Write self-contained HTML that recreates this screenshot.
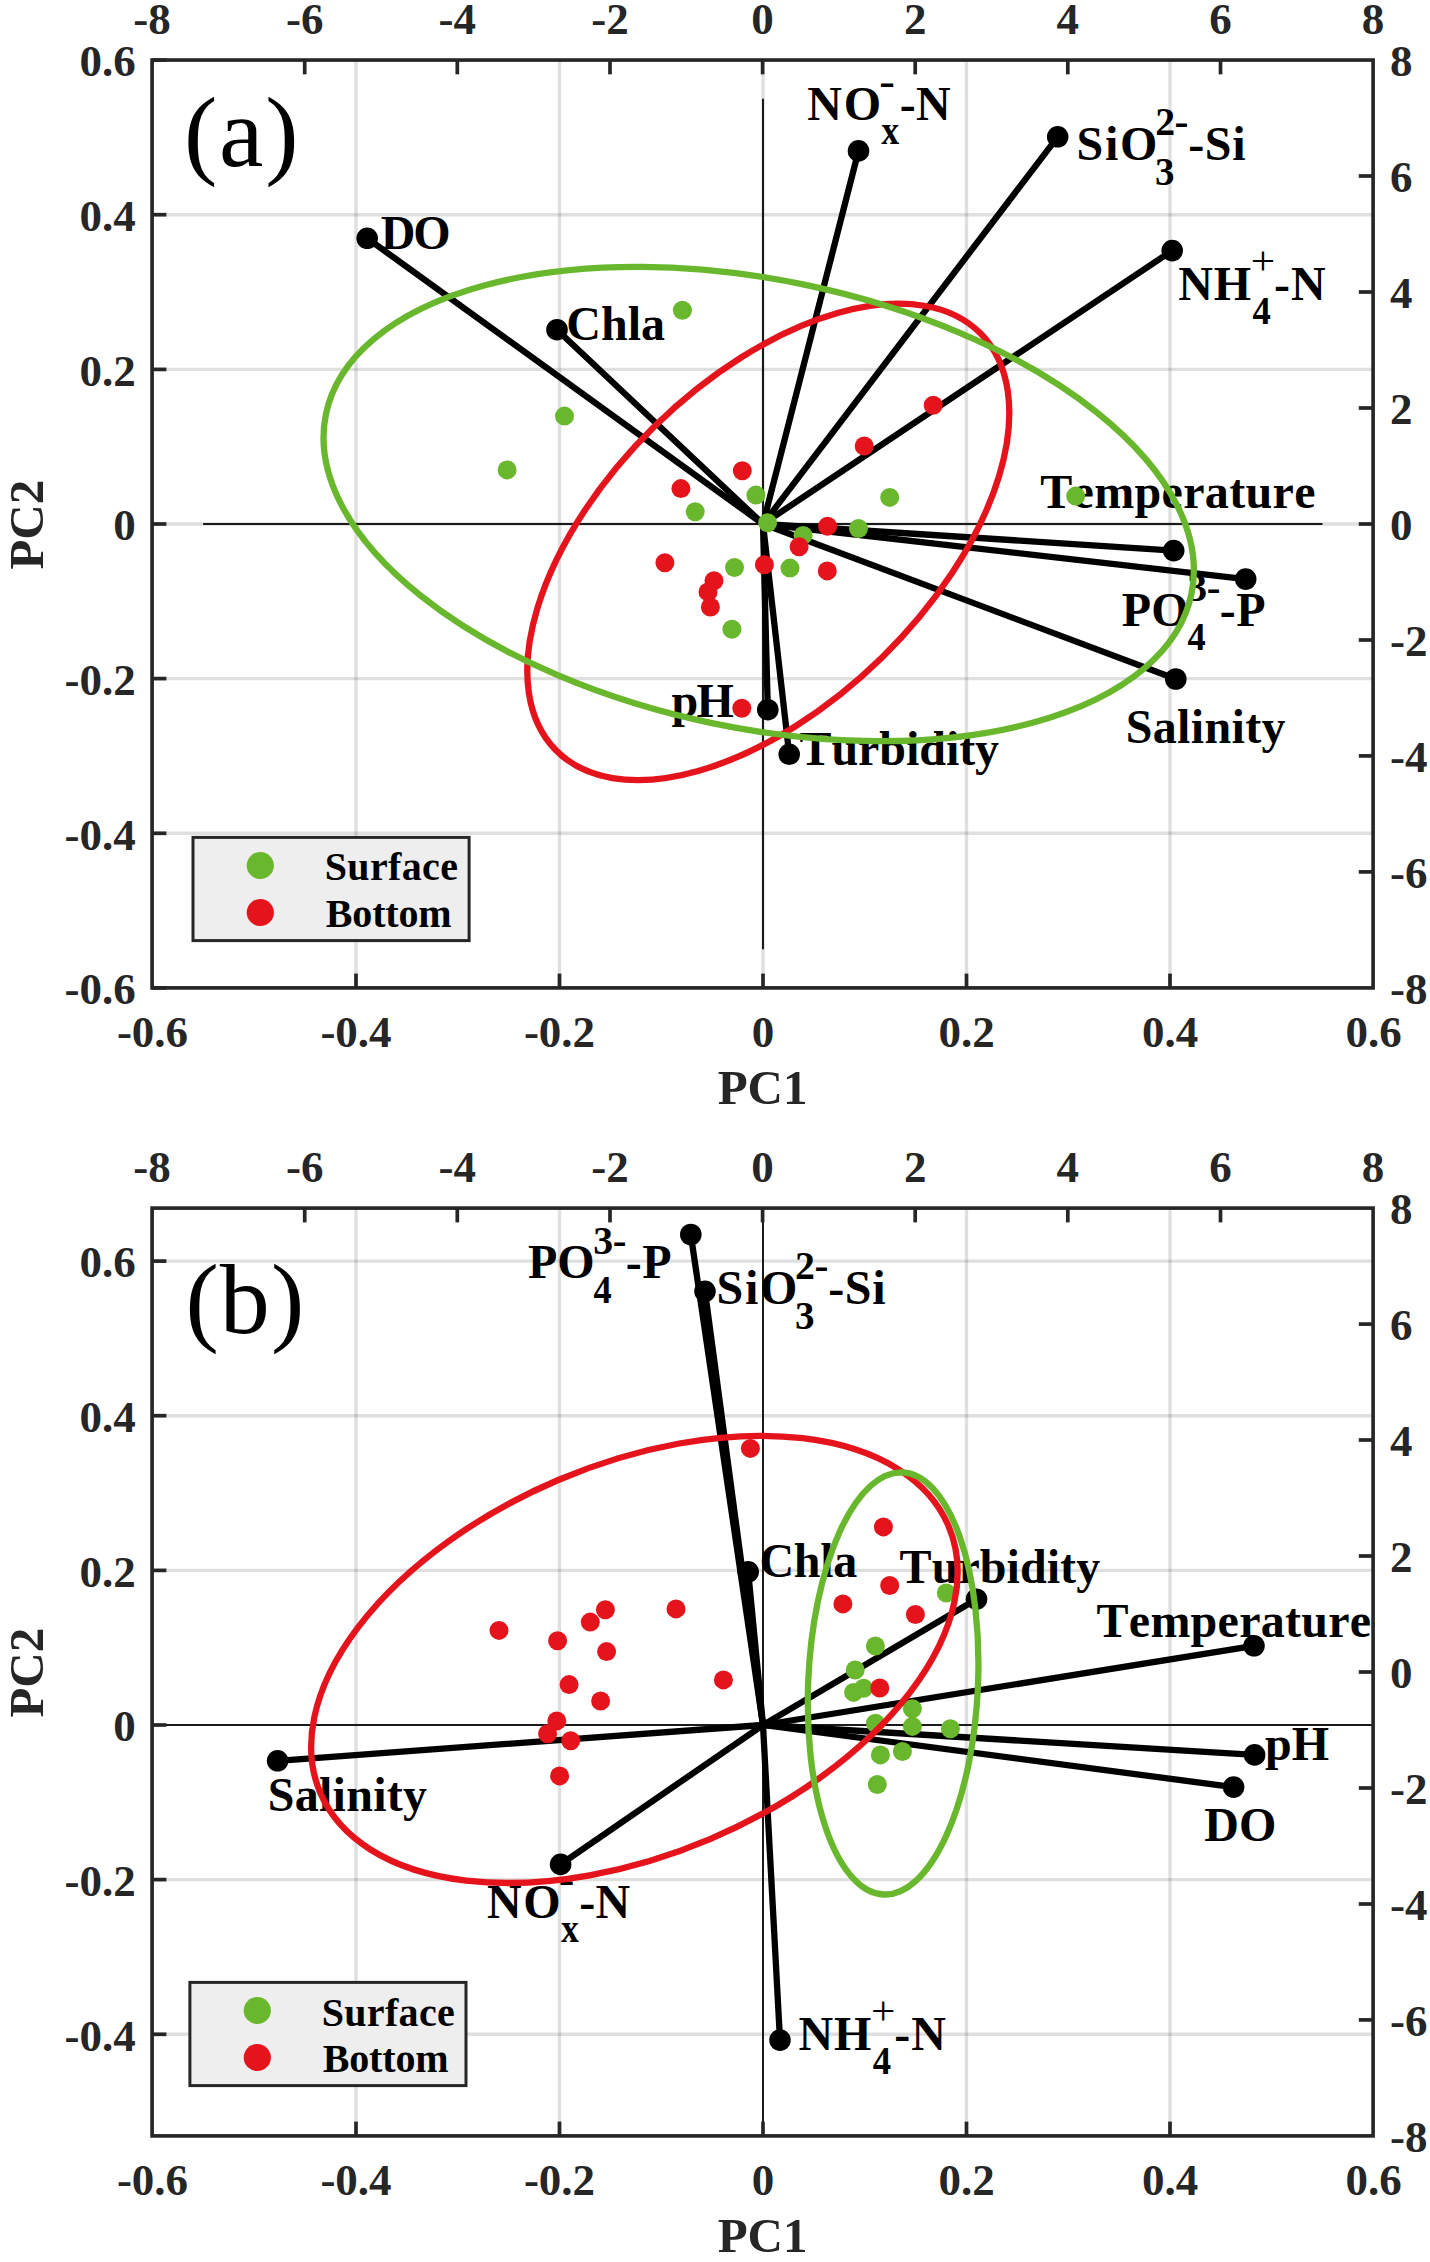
<!DOCTYPE html>
<html><head><meta charset="utf-8"><title>PCA biplots</title>
<style>html,body{margin:0;padding:0;background:#fff}svg{display:block}text{font-kerning:none}</style></head>
<body>
<svg width="1430" height="2262" viewBox="0 0 1430 2262">
<rect width="1430" height="2262" fill="#fff"/>
<rect x="152.1" y="60.05" width="1221.0" height="927.85" fill="#fff"/>
<line x1="356.0" y1="60.05" x2="356.0" y2="987.9" stroke="#262626" stroke-opacity="0.15" stroke-width="3.4"/>
<line x1="559.5" y1="60.05" x2="559.5" y2="987.9" stroke="#262626" stroke-opacity="0.15" stroke-width="3.4"/>
<line x1="763.0" y1="60.05" x2="763.0" y2="987.9" stroke="#262626" stroke-opacity="0.15" stroke-width="3.4"/>
<line x1="966.5" y1="60.05" x2="966.5" y2="987.9" stroke="#262626" stroke-opacity="0.15" stroke-width="3.4"/>
<line x1="1170.0" y1="60.05" x2="1170.0" y2="987.9" stroke="#262626" stroke-opacity="0.15" stroke-width="3.4"/>
<line x1="152.1" y1="833.3" x2="1373.1" y2="833.3" stroke="#262626" stroke-opacity="0.15" stroke-width="3.4"/>
<line x1="152.1" y1="678.6" x2="1373.1" y2="678.6" stroke="#262626" stroke-opacity="0.15" stroke-width="3.4"/>
<line x1="152.1" y1="524.0" x2="1373.1" y2="524.0" stroke="#262626" stroke-opacity="0.15" stroke-width="3.4"/>
<line x1="152.1" y1="369.4" x2="1373.1" y2="369.4" stroke="#262626" stroke-opacity="0.15" stroke-width="3.4"/>
<line x1="152.1" y1="214.7" x2="1373.1" y2="214.7" stroke="#262626" stroke-opacity="0.15" stroke-width="3.4"/>
<line x1="203.1" y1="524.0" x2="1322.5" y2="524.0" stroke="#1a1a1a" stroke-width="2"/>
<line x1="763.0" y1="98.7" x2="763.0" y2="949.3" stroke="#1a1a1a" stroke-width="2"/>
<g font-family="Liberation Serif, serif" font-weight="bold">
<text x="380.66" y="248.5" font-size="48" fill="#000" text-anchor="start" textLength="69.99" lengthAdjust="spacing" >DO</text>
<text x="566.26" y="339.9" font-size="48" fill="#000" text-anchor="start" textLength="98.77" lengthAdjust="spacing" >Chla</text>
<text x="807.29" y="119.9" font-size="48" fill="#000" text-anchor="start" textLength="73.76" lengthAdjust="spacing" >NO</text>
<text x="879.18" y="95.2" font-size="39" fill="#000" text-anchor="start" textLength="15.64" lengthAdjust="spacingAndGlyphs" >-</text>
<text x="881.36" y="144.3" font-size="39" fill="#000" text-anchor="start" textLength="17.93" lengthAdjust="spacingAndGlyphs" >x</text>
<text x="899.74" y="119.9" font-size="48" fill="#000" text-anchor="start" textLength="50.89" lengthAdjust="spacing" >-N</text>
<text x="1076.55" y="160.1" font-size="48" fill="#000" text-anchor="start" textLength="80.9" lengthAdjust="spacing" >SiO</text>
<text x="1155.13" y="135.4" font-size="39" fill="#000" text-anchor="start" textLength="19.88" lengthAdjust="spacingAndGlyphs" >2</text>
<text x="1174.56" y="135.4" font-size="39" fill="#000" text-anchor="start" textLength="13.97" lengthAdjust="spacingAndGlyphs" >-</text>
<text x="1154.93" y="184.5" font-size="39" fill="#000" text-anchor="start" textLength="19.5" lengthAdjust="spacingAndGlyphs" >3</text>
<text x="1188.14" y="160.1" font-size="48" fill="#000" text-anchor="start" textLength="57.46" lengthAdjust="spacing" >-Si</text>
<text x="1178.29" y="300" font-size="48" fill="#000" text-anchor="start" textLength="72.81" lengthAdjust="spacing" >NH</text>
<text x="1250.65" y="274.1" font-size="41" fill="#000" text-anchor="start" textLength="24.36" lengthAdjust="spacingAndGlyphs"  font-weight="normal">+</text>
<text x="1252.5" y="324.4" font-size="39" fill="#000" text-anchor="start" textLength="18.28" lengthAdjust="spacingAndGlyphs" >4</text>
<text x="1273.94" y="300" font-size="48" fill="#000" text-anchor="start" textLength="51.69" lengthAdjust="spacing" >-N</text>
<text x="1121.78" y="625.5" font-size="48" fill="#000" text-anchor="start" textLength="66.76" lengthAdjust="spacing" >PO</text>
<text x="1187.21" y="600.8" font-size="39" fill="#000" text-anchor="start" textLength="19.85" lengthAdjust="spacingAndGlyphs" >3</text>
<text x="1206.69" y="600.8" font-size="39" fill="#000" text-anchor="start" textLength="13.72" lengthAdjust="spacingAndGlyphs" >-</text>
<text x="1187.5" y="649.9" font-size="39" fill="#000" text-anchor="start" textLength="18.17" lengthAdjust="spacingAndGlyphs" >4</text>
<text x="1219.64" y="625.5" font-size="48" fill="#000" text-anchor="start" textLength="45.92" lengthAdjust="spacing" >-P</text>
<text x="1040.15" y="507.6" font-size="48" fill="#000" text-anchor="start" textLength="275.39" lengthAdjust="spacing" >Temperature</text>
<text x="1125.75" y="743.2" font-size="48" fill="#000" text-anchor="start" textLength="159.72" lengthAdjust="spacing" >Salinity</text>
<text x="799.55" y="764.5" font-size="48" fill="#000" text-anchor="start" textLength="199.52" lengthAdjust="spacing" >Turbidity</text>
<text x="671.49" y="717.2" font-size="48" fill="#000" text-anchor="start" textLength="62.31" lengthAdjust="spacing" >pH</text>
</g>
<g font-family="Liberation Serif, serif"><text x="183.91" y="166.3" font-size="100" fill="#000" text-anchor="start" textLength="114.59" lengthAdjust="spacing"  font-weight="normal">(a)</text></g>
<line x1="763.0" y1="524.0" x2="367.2" y2="238.3" stroke="#000" stroke-width="6.3" stroke-linecap="round"/>
<line x1="763.0" y1="524.0" x2="557" y2="329.7" stroke="#000" stroke-width="6.3" stroke-linecap="round"/>
<line x1="763.0" y1="524.0" x2="858.5" y2="150.9" stroke="#000" stroke-width="6.3" stroke-linecap="round"/>
<line x1="763.0" y1="524.0" x2="1057.7" y2="136.8" stroke="#000" stroke-width="6.3" stroke-linecap="round"/>
<line x1="763.0" y1="524.0" x2="1172.2" y2="250.6" stroke="#000" stroke-width="6.3" stroke-linecap="round"/>
<line x1="763.0" y1="524.0" x2="1173.7" y2="550.6" stroke="#000" stroke-width="6.3" stroke-linecap="round"/>
<line x1="763.0" y1="524.0" x2="1245.7" y2="579.1" stroke="#000" stroke-width="6.3" stroke-linecap="round"/>
<line x1="763.0" y1="524.0" x2="1175.8" y2="679" stroke="#000" stroke-width="6.3" stroke-linecap="round"/>
<line x1="763.0" y1="524.0" x2="789.2" y2="754.3" stroke="#000" stroke-width="6.3" stroke-linecap="round"/>
<line x1="763.0" y1="524.0" x2="767.8" y2="709.7" stroke="#000" stroke-width="6.3" stroke-linecap="round"/>
<circle cx="367.2" cy="238.3" r="10.8" fill="#000"/>
<circle cx="557" cy="329.7" r="10.8" fill="#000"/>
<circle cx="858.5" cy="150.9" r="10.8" fill="#000"/>
<circle cx="1057.7" cy="136.8" r="10.8" fill="#000"/>
<circle cx="1172.2" cy="250.6" r="10.8" fill="#000"/>
<circle cx="1173.7" cy="550.6" r="10.8" fill="#000"/>
<circle cx="1245.7" cy="579.1" r="10.8" fill="#000"/>
<circle cx="1175.8" cy="679" r="10.8" fill="#000"/>
<circle cx="789.2" cy="754.3" r="10.8" fill="#000"/>
<circle cx="767.8" cy="709.7" r="10.8" fill="#000"/>
<circle cx="564.5" cy="416.1" r="9.5" fill="#69b72d"/>
<circle cx="507.1" cy="469.9" r="9.5" fill="#69b72d"/>
<circle cx="755.9" cy="495.1" r="9.5" fill="#69b72d"/>
<circle cx="695.2" cy="511.7" r="9.5" fill="#69b72d"/>
<circle cx="767.6" cy="522.8" r="9.5" fill="#69b72d"/>
<circle cx="889.7" cy="497.4" r="9.5" fill="#69b72d"/>
<circle cx="803.1" cy="535.4" r="9.5" fill="#69b72d"/>
<circle cx="858.5" cy="528.5" r="9.5" fill="#69b72d"/>
<circle cx="734.5" cy="567.5" r="9.5" fill="#69b72d"/>
<circle cx="790.0" cy="568.1" r="9.5" fill="#69b72d"/>
<circle cx="731.9" cy="629.3" r="9.5" fill="#69b72d"/>
<circle cx="682.4" cy="310.3" r="9.5" fill="#69b72d"/>
<circle cx="1075.7" cy="496.1" r="9.5" fill="#69b72d"/>
<circle cx="742.3" cy="470.7" r="9.5" fill="#e5141c"/>
<circle cx="680.9" cy="488.6" r="9.5" fill="#e5141c"/>
<circle cx="933.2" cy="405.3" r="9.5" fill="#e5141c"/>
<circle cx="864.2" cy="446.0" r="9.5" fill="#e5141c"/>
<circle cx="827.6" cy="526.3" r="9.5" fill="#e5141c"/>
<circle cx="799.1" cy="546.7" r="9.5" fill="#e5141c"/>
<circle cx="764.4" cy="564.7" r="9.5" fill="#e5141c"/>
<circle cx="827.3" cy="570.9" r="9.5" fill="#e5141c"/>
<circle cx="664.9" cy="562.8" r="9.5" fill="#e5141c"/>
<circle cx="714.0" cy="580.7" r="9.5" fill="#e5141c"/>
<circle cx="708.0" cy="591.9" r="9.5" fill="#e5141c"/>
<circle cx="710.4" cy="607.0" r="9.5" fill="#e5141c"/>
<circle cx="741.8" cy="708.3" r="9.5" fill="#e5141c"/>
<ellipse cx="768.3" cy="541.9" rx="297.5" ry="162.2" transform="rotate(135.62 768.3 541.9)" fill="none" stroke="#e5141c" stroke-width="6.3"/>
<ellipse cx="758.7" cy="504.0" rx="442.0" ry="224.1" transform="rotate(-168.26 758.7 504.0)" fill="none" stroke="#69b72d" stroke-width="6.3"/>
<line x1="356.0" y1="987.9" x2="356.0" y2="973.6" stroke="#262626" stroke-width="3.7"/>
<line x1="559.5" y1="987.9" x2="559.5" y2="973.6" stroke="#262626" stroke-width="3.7"/>
<line x1="763.0" y1="987.9" x2="763.0" y2="973.6" stroke="#262626" stroke-width="3.7"/>
<line x1="966.5" y1="987.9" x2="966.5" y2="973.6" stroke="#262626" stroke-width="3.7"/>
<line x1="1170.0" y1="987.9" x2="1170.0" y2="973.6" stroke="#262626" stroke-width="3.7"/>
<line x1="152.1" y1="987.9" x2="166.4" y2="987.9" stroke="#262626" stroke-width="3.7"/>
<line x1="152.1" y1="833.3" x2="166.4" y2="833.3" stroke="#262626" stroke-width="3.7"/>
<line x1="152.1" y1="678.6" x2="166.4" y2="678.6" stroke="#262626" stroke-width="3.7"/>
<line x1="152.1" y1="524.0" x2="166.4" y2="524.0" stroke="#262626" stroke-width="3.7"/>
<line x1="152.1" y1="369.4" x2="166.4" y2="369.4" stroke="#262626" stroke-width="3.7"/>
<line x1="152.1" y1="214.7" x2="166.4" y2="214.7" stroke="#262626" stroke-width="3.7"/>
<line x1="152.1" y1="60.1" x2="166.4" y2="60.1" stroke="#262626" stroke-width="3.7"/>
<line x1="304.7" y1="60.05" x2="304.7" y2="74.35" stroke="#262626" stroke-width="3.7"/>
<line x1="1373.1" y1="871.9" x2="1358.8" y2="871.9" stroke="#262626" stroke-width="3.7"/>
<line x1="457.3" y1="60.05" x2="457.3" y2="74.35" stroke="#262626" stroke-width="3.7"/>
<line x1="1373.1" y1="755.9" x2="1358.8" y2="755.9" stroke="#262626" stroke-width="3.7"/>
<line x1="610.0" y1="60.05" x2="610.0" y2="74.35" stroke="#262626" stroke-width="3.7"/>
<line x1="1373.1" y1="640.0" x2="1358.8" y2="640.0" stroke="#262626" stroke-width="3.7"/>
<line x1="762.6" y1="60.05" x2="762.6" y2="74.35" stroke="#262626" stroke-width="3.7"/>
<line x1="1373.1" y1="524.0" x2="1358.8" y2="524.0" stroke="#262626" stroke-width="3.7"/>
<line x1="915.2" y1="60.05" x2="915.2" y2="74.35" stroke="#262626" stroke-width="3.7"/>
<line x1="1373.1" y1="408.0" x2="1358.8" y2="408.0" stroke="#262626" stroke-width="3.7"/>
<line x1="1067.8" y1="60.05" x2="1067.8" y2="74.35" stroke="#262626" stroke-width="3.7"/>
<line x1="1373.1" y1="292.0" x2="1358.8" y2="292.0" stroke="#262626" stroke-width="3.7"/>
<line x1="1220.5" y1="60.05" x2="1220.5" y2="74.35" stroke="#262626" stroke-width="3.7"/>
<line x1="1373.1" y1="176.0" x2="1358.8" y2="176.0" stroke="#262626" stroke-width="3.7"/>
<rect x="152.1" y="60.05" width="1221.0" height="927.85" fill="none" stroke="#262626" stroke-width="3.65"/>
<g font-family="Liberation Serif, serif" font-weight="bold" font-size="45" fill="#262626">
<text x="152.5" y="1046.6" text-anchor="middle">-0.6</text>
<text x="356.0" y="1046.6" text-anchor="middle">-0.4</text>
<text x="559.5" y="1046.6" text-anchor="middle">-0.2</text>
<text x="763.0" y="1046.6" text-anchor="middle">0</text>
<text x="966.5" y="1046.6" text-anchor="middle">0.2</text>
<text x="1170.0" y="1046.6" text-anchor="middle">0.4</text>
<text x="1373.5" y="1046.6" text-anchor="middle">0.6</text>
<text x="135.7" y="1004.1" text-anchor="end">-0.6</text>
<text x="135.7" y="849.5" text-anchor="end">-0.4</text>
<text x="135.7" y="694.8" text-anchor="end">-0.2</text>
<text x="135.7" y="540.2" text-anchor="end">0</text>
<text x="135.7" y="385.6" text-anchor="end">0.2</text>
<text x="135.7" y="230.9" text-anchor="end">0.4</text>
<text x="135.7" y="76.3" text-anchor="end">0.6</text>
<text x="152.1" y="34.3" text-anchor="middle">-8</text>
<text x="1390.0" y="1004.0">-8</text>
<text x="304.7" y="34.3" text-anchor="middle">-6</text>
<text x="1390.0" y="888.0">-6</text>
<text x="457.3" y="34.3" text-anchor="middle">-4</text>
<text x="1390.0" y="772.0">-4</text>
<text x="610.0" y="34.3" text-anchor="middle">-2</text>
<text x="1390.0" y="656.1">-2</text>
<text x="762.6" y="34.3" text-anchor="middle">0</text>
<text x="1390.0" y="540.1">0</text>
<text x="915.2" y="34.3" text-anchor="middle">2</text>
<text x="1390.0" y="424.1">2</text>
<text x="1067.8" y="34.3" text-anchor="middle">4</text>
<text x="1390.0" y="308.1">4</text>
<text x="1220.5" y="34.3" text-anchor="middle">6</text>
<text x="1390.0" y="192.1">6</text>
<text x="1373.1" y="34.3" text-anchor="middle">8</text>
<text x="1390.0" y="76.2">8</text>
</g>
<text x="762.5999999999999"  y="1103.9" font-family="Liberation Serif, serif" font-weight="bold" font-size="49" fill="#262626" text-anchor="middle">PC1</text>
<text transform="translate(43.1 524.7) rotate(-90)" font-family="Liberation Serif, serif" font-weight="bold" font-size="49" fill="#262626" text-anchor="middle">PC2</text>
<rect x="193" y="837.4" width="276.1" height="103.2" fill="#eeeeee" stroke="#262626" stroke-width="3"/>
<circle cx="260.3" cy="865.5" r="13.6" fill="#69b72d"/>
<circle cx="260.3" cy="912.5" r="13.6" fill="#e5141c"/>
<g font-family="Liberation Serif, serif" font-weight="bold">
<text x="324.77" y="880.4" font-size="40" fill="#000" text-anchor="start" textLength="133.16" lengthAdjust="spacing" >Surface</text>
<text x="325.74" y="927" font-size="40" fill="#000" text-anchor="start" textLength="125.95" lengthAdjust="spacing" >Bottom</text>
</g>
<rect x="152.1" y="1208.1" width="1221.0" height="927.8000000000002" fill="#fff"/>
<line x1="356.0" y1="1208.1" x2="356.0" y2="2135.9" stroke="#262626" stroke-opacity="0.15" stroke-width="3.4"/>
<line x1="559.5" y1="1208.1" x2="559.5" y2="2135.9" stroke="#262626" stroke-opacity="0.15" stroke-width="3.4"/>
<line x1="966.5" y1="1208.1" x2="966.5" y2="2135.9" stroke="#262626" stroke-opacity="0.15" stroke-width="3.4"/>
<line x1="1170.0" y1="1208.1" x2="1170.0" y2="2135.9" stroke="#262626" stroke-opacity="0.15" stroke-width="3.4"/>
<line x1="152.1" y1="2034.3" x2="1373.1" y2="2034.3" stroke="#262626" stroke-opacity="0.15" stroke-width="3.4"/>
<line x1="152.1" y1="1879.6" x2="1373.1" y2="1879.6" stroke="#262626" stroke-opacity="0.15" stroke-width="3.4"/>
<line x1="152.1" y1="1570.4" x2="1373.1" y2="1570.4" stroke="#262626" stroke-opacity="0.15" stroke-width="3.4"/>
<line x1="152.1" y1="1415.7" x2="1373.1" y2="1415.7" stroke="#262626" stroke-opacity="0.15" stroke-width="3.4"/>
<line x1="152.1" y1="1261.1" x2="1373.1" y2="1261.1" stroke="#262626" stroke-opacity="0.15" stroke-width="3.4"/>
<line x1="152.1" y1="1725.0" x2="1373.1" y2="1725.0" stroke="#1a1a1a" stroke-width="2"/>
<line x1="763.0" y1="1208.1" x2="763.0" y2="2135.9" stroke="#1a1a1a" stroke-width="2"/>
<g font-family="Liberation Serif, serif" font-weight="bold">
<text x="527.88" y="1278.2" font-size="48" fill="#000" text-anchor="start" textLength="66.76" lengthAdjust="spacing" >PO</text>
<text x="593.31" y="1253.5" font-size="39" fill="#000" text-anchor="start" textLength="19.85" lengthAdjust="spacingAndGlyphs" >3</text>
<text x="612.79" y="1253.5" font-size="39" fill="#000" text-anchor="start" textLength="13.72" lengthAdjust="spacingAndGlyphs" >-</text>
<text x="593.6" y="1302.6000000000001" font-size="39" fill="#000" text-anchor="start" textLength="18.17" lengthAdjust="spacingAndGlyphs" >4</text>
<text x="625.74" y="1278.2" font-size="48" fill="#000" text-anchor="start" textLength="45.92" lengthAdjust="spacing" >-P</text>
<text x="716.55" y="1304.1" font-size="48" fill="#000" text-anchor="start" textLength="80.9" lengthAdjust="spacing" >SiO</text>
<text x="795.13" y="1279.3999999999999" font-size="39" fill="#000" text-anchor="start" textLength="19.88" lengthAdjust="spacingAndGlyphs" >2</text>
<text x="814.56" y="1279.3999999999999" font-size="39" fill="#000" text-anchor="start" textLength="13.97" lengthAdjust="spacingAndGlyphs" >-</text>
<text x="794.93" y="1328.5" font-size="39" fill="#000" text-anchor="start" textLength="19.5" lengthAdjust="spacingAndGlyphs" >3</text>
<text x="828.14" y="1304.1" font-size="48" fill="#000" text-anchor="start" textLength="57.46" lengthAdjust="spacing" >-Si</text>
<text x="798.59" y="2049.9" font-size="48" fill="#000" text-anchor="start" textLength="72.81" lengthAdjust="spacing" >NH</text>
<text x="870.95" y="2024.0" font-size="41" fill="#000" text-anchor="start" textLength="24.36" lengthAdjust="spacingAndGlyphs"  font-weight="normal">+</text>
<text x="872.8" y="2074.3" font-size="39" fill="#000" text-anchor="start" textLength="18.28" lengthAdjust="spacingAndGlyphs" >4</text>
<text x="894.24" y="2049.9" font-size="48" fill="#000" text-anchor="start" textLength="51.69" lengthAdjust="spacing" >-N</text>
<text x="486.89" y="1917.8000000000002" font-size="48" fill="#000" text-anchor="start" textLength="73.76" lengthAdjust="spacing" >NO</text>
<text x="558.78" y="1893.1000000000001" font-size="39" fill="#000" text-anchor="start" textLength="15.64" lengthAdjust="spacingAndGlyphs" >-</text>
<text x="560.96" y="1942.2000000000003" font-size="39" fill="#000" text-anchor="start" textLength="17.93" lengthAdjust="spacingAndGlyphs" >x</text>
<text x="579.34" y="1917.8000000000002" font-size="48" fill="#000" text-anchor="start" textLength="50.89" lengthAdjust="spacing" >-N</text>
<text x="759.46" y="1577.3" font-size="48" fill="#000" text-anchor="start" textLength="97.77" lengthAdjust="spacing" >Chla</text>
<text x="899.55" y="1583" font-size="48" fill="#000" text-anchor="start" textLength="200.62" lengthAdjust="spacing" >Turbidity</text>
<text x="1096.55" y="1637.2" font-size="48" fill="#000" text-anchor="start" textLength="274.49" lengthAdjust="spacing" >Temperature</text>
<text x="1264.89" y="1760.4" font-size="48" fill="#000" text-anchor="start" textLength="64.11" lengthAdjust="spacing" >pH</text>
<text x="1204.26" y="1841.1" font-size="48" fill="#000" text-anchor="start" textLength="72.09" lengthAdjust="spacing" >DO</text>
<text x="267.75" y="1811.4" font-size="48" fill="#000" text-anchor="start" textLength="159.22" lengthAdjust="spacing" >Salinity</text>
</g>
<g font-family="Liberation Serif, serif"><text x="185.51" y="1332.6" font-size="100" fill="#000" text-anchor="start" textLength="118.69" lengthAdjust="spacing"  font-weight="normal">(b)</text></g>
<line x1="763.0" y1="1725.0" x2="690.8" y2="1234.5" stroke="#000" stroke-width="6.3" stroke-linecap="round"/>
<line x1="763.0" y1="1725.0" x2="705" y2="1291.3" stroke="#000" stroke-width="6.3" stroke-linecap="round"/>
<line x1="763.0" y1="1725.0" x2="748.2" y2="1571.8" stroke="#000" stroke-width="6.3" stroke-linecap="round"/>
<line x1="763.0" y1="1725.0" x2="976.5" y2="1599.2" stroke="#000" stroke-width="6.3" stroke-linecap="round"/>
<line x1="763.0" y1="1725.0" x2="1254" y2="1645.8" stroke="#000" stroke-width="6.3" stroke-linecap="round"/>
<line x1="763.0" y1="1725.0" x2="1254.6" y2="1754.9" stroke="#000" stroke-width="6.3" stroke-linecap="round"/>
<line x1="763.0" y1="1725.0" x2="1233.6" y2="1787.1" stroke="#000" stroke-width="6.3" stroke-linecap="round"/>
<line x1="763.0" y1="1725.0" x2="780" y2="2040.1" stroke="#000" stroke-width="6.3" stroke-linecap="round"/>
<line x1="763.0" y1="1725.0" x2="277.6" y2="1760.8" stroke="#000" stroke-width="6.3" stroke-linecap="round"/>
<line x1="763.0" y1="1725.0" x2="560.6" y2="1864.4" stroke="#000" stroke-width="6.3" stroke-linecap="round"/>
<circle cx="690.8" cy="1234.5" r="10.8" fill="#000"/>
<circle cx="705" cy="1291.3" r="10.8" fill="#000"/>
<circle cx="748.2" cy="1571.8" r="10.8" fill="#000"/>
<circle cx="976.5" cy="1599.2" r="10.8" fill="#000"/>
<circle cx="1254" cy="1645.8" r="10.8" fill="#000"/>
<circle cx="1254.6" cy="1754.9" r="10.8" fill="#000"/>
<circle cx="1233.6" cy="1787.1" r="10.8" fill="#000"/>
<circle cx="780" cy="2040.1" r="10.8" fill="#000"/>
<circle cx="277.6" cy="1760.8" r="10.8" fill="#000"/>
<circle cx="560.6" cy="1864.4" r="10.8" fill="#000"/>
<circle cx="946.3" cy="1593.0" r="9.5" fill="#69b72d"/>
<circle cx="875.4" cy="1646.0" r="9.5" fill="#69b72d"/>
<circle cx="855.2" cy="1670.0" r="9.5" fill="#69b72d"/>
<circle cx="853.6" cy="1692.4" r="9.5" fill="#69b72d"/>
<circle cx="863.6" cy="1688.2" r="9.5" fill="#69b72d"/>
<circle cx="912.4" cy="1708.7" r="9.5" fill="#69b72d"/>
<circle cx="875.5" cy="1723.3" r="9.5" fill="#69b72d"/>
<circle cx="912.4" cy="1726.4" r="9.5" fill="#69b72d"/>
<circle cx="950.4" cy="1728.7" r="9.5" fill="#69b72d"/>
<circle cx="880.4" cy="1754.9" r="9.5" fill="#69b72d"/>
<circle cx="902.4" cy="1751.5" r="9.5" fill="#69b72d"/>
<circle cx="877.3" cy="1784.5" r="9.5" fill="#69b72d"/>
<circle cx="750.4" cy="1448.4" r="9.5" fill="#e5141c"/>
<circle cx="883.4" cy="1526.9" r="9.5" fill="#e5141c"/>
<circle cx="889.7" cy="1585.5" r="9.5" fill="#e5141c"/>
<circle cx="842.9" cy="1603.9" r="9.5" fill="#e5141c"/>
<circle cx="915.4" cy="1614.5" r="9.5" fill="#e5141c"/>
<circle cx="879.8" cy="1688.0" r="9.5" fill="#e5141c"/>
<circle cx="499.0" cy="1630.4" r="9.5" fill="#e5141c"/>
<circle cx="557.6" cy="1640.8" r="9.5" fill="#e5141c"/>
<circle cx="590.3" cy="1622.1" r="9.5" fill="#e5141c"/>
<circle cx="605.4" cy="1609.7" r="9.5" fill="#e5141c"/>
<circle cx="676.0" cy="1608.9" r="9.5" fill="#e5141c"/>
<circle cx="606.6" cy="1651.6" r="9.5" fill="#e5141c"/>
<circle cx="569.1" cy="1684.6" r="9.5" fill="#e5141c"/>
<circle cx="600.6" cy="1701.0" r="9.5" fill="#e5141c"/>
<circle cx="723.4" cy="1679.9" r="9.5" fill="#e5141c"/>
<circle cx="556.8" cy="1720.9" r="9.5" fill="#e5141c"/>
<circle cx="547.6" cy="1733.7" r="9.5" fill="#e5141c"/>
<circle cx="570.7" cy="1740.8" r="9.5" fill="#e5141c"/>
<circle cx="559.6" cy="1775.9" r="9.5" fill="#e5141c"/>
<ellipse cx="634.4" cy="1659.4" rx="341.3" ry="194.9" transform="rotate(156.99 634.4 1659.4)" fill="none" stroke="#e5141c" stroke-width="6.3"/>
<ellipse cx="893.1" cy="1683.4" rx="211.3" ry="84.9" transform="rotate(-87.44 893.1 1683.4)" fill="none" stroke="#69b72d" stroke-width="6.3"/>
<line x1="356.0" y1="2135.9" x2="356.0" y2="2121.6" stroke="#262626" stroke-width="3.7"/>
<line x1="559.5" y1="2135.9" x2="559.5" y2="2121.6" stroke="#262626" stroke-width="3.7"/>
<line x1="763.0" y1="2135.9" x2="763.0" y2="2121.6" stroke="#262626" stroke-width="3.7"/>
<line x1="966.5" y1="2135.9" x2="966.5" y2="2121.6" stroke="#262626" stroke-width="3.7"/>
<line x1="1170.0" y1="2135.9" x2="1170.0" y2="2121.6" stroke="#262626" stroke-width="3.7"/>
<line x1="152.1" y1="2034.3" x2="166.4" y2="2034.3" stroke="#262626" stroke-width="3.7"/>
<line x1="152.1" y1="1879.6" x2="166.4" y2="1879.6" stroke="#262626" stroke-width="3.7"/>
<line x1="152.1" y1="1725.0" x2="166.4" y2="1725.0" stroke="#262626" stroke-width="3.7"/>
<line x1="152.1" y1="1570.4" x2="166.4" y2="1570.4" stroke="#262626" stroke-width="3.7"/>
<line x1="152.1" y1="1415.7" x2="166.4" y2="1415.7" stroke="#262626" stroke-width="3.7"/>
<line x1="152.1" y1="1261.1" x2="166.4" y2="1261.1" stroke="#262626" stroke-width="3.7"/>
<line x1="304.7" y1="1208.1" x2="304.7" y2="1222.3999999999999" stroke="#262626" stroke-width="3.7"/>
<line x1="1373.1" y1="2019.9" x2="1358.8" y2="2019.9" stroke="#262626" stroke-width="3.7"/>
<line x1="457.3" y1="1208.1" x2="457.3" y2="1222.3999999999999" stroke="#262626" stroke-width="3.7"/>
<line x1="1373.1" y1="1904.0" x2="1358.8" y2="1904.0" stroke="#262626" stroke-width="3.7"/>
<line x1="610.0" y1="1208.1" x2="610.0" y2="1222.3999999999999" stroke="#262626" stroke-width="3.7"/>
<line x1="1373.1" y1="1788.0" x2="1358.8" y2="1788.0" stroke="#262626" stroke-width="3.7"/>
<line x1="762.6" y1="1208.1" x2="762.6" y2="1222.3999999999999" stroke="#262626" stroke-width="3.7"/>
<line x1="1373.1" y1="1672.0" x2="1358.8" y2="1672.0" stroke="#262626" stroke-width="3.7"/>
<line x1="915.2" y1="1208.1" x2="915.2" y2="1222.3999999999999" stroke="#262626" stroke-width="3.7"/>
<line x1="1373.1" y1="1556.0" x2="1358.8" y2="1556.0" stroke="#262626" stroke-width="3.7"/>
<line x1="1067.8" y1="1208.1" x2="1067.8" y2="1222.3999999999999" stroke="#262626" stroke-width="3.7"/>
<line x1="1373.1" y1="1440.0" x2="1358.8" y2="1440.0" stroke="#262626" stroke-width="3.7"/>
<line x1="1220.5" y1="1208.1" x2="1220.5" y2="1222.3999999999999" stroke="#262626" stroke-width="3.7"/>
<line x1="1373.1" y1="1324.1" x2="1358.8" y2="1324.1" stroke="#262626" stroke-width="3.7"/>
<rect x="152.1" y="1208.1" width="1221.0" height="927.8000000000002" fill="none" stroke="#262626" stroke-width="3.65"/>
<g font-family="Liberation Serif, serif" font-weight="bold" font-size="45" fill="#262626">
<text x="152.5" y="2194.6" text-anchor="middle">-0.6</text>
<text x="356.0" y="2194.6" text-anchor="middle">-0.4</text>
<text x="559.5" y="2194.6" text-anchor="middle">-0.2</text>
<text x="763.0" y="2194.6" text-anchor="middle">0</text>
<text x="966.5" y="2194.6" text-anchor="middle">0.2</text>
<text x="1170.0" y="2194.6" text-anchor="middle">0.4</text>
<text x="1373.5" y="2194.6" text-anchor="middle">0.6</text>
<text x="135.7" y="2050.5" text-anchor="end">-0.4</text>
<text x="135.7" y="1895.8" text-anchor="end">-0.2</text>
<text x="135.7" y="1741.2" text-anchor="end">0</text>
<text x="135.7" y="1586.6" text-anchor="end">0.2</text>
<text x="135.7" y="1431.9" text-anchor="end">0.4</text>
<text x="135.7" y="1277.3" text-anchor="end">0.6</text>
<text x="152.1" y="1182.4" text-anchor="middle">-8</text>
<text x="1390.0" y="2152.0">-8</text>
<text x="304.7" y="1182.4" text-anchor="middle">-6</text>
<text x="1390.0" y="2036.0">-6</text>
<text x="457.3" y="1182.4" text-anchor="middle">-4</text>
<text x="1390.0" y="1920.0">-4</text>
<text x="610.0" y="1182.4" text-anchor="middle">-2</text>
<text x="1390.0" y="1804.1">-2</text>
<text x="762.6" y="1182.4" text-anchor="middle">0</text>
<text x="1390.0" y="1688.1">0</text>
<text x="915.2" y="1182.4" text-anchor="middle">2</text>
<text x="1390.0" y="1572.1">2</text>
<text x="1067.8" y="1182.4" text-anchor="middle">4</text>
<text x="1390.0" y="1456.1">4</text>
<text x="1220.5" y="1182.4" text-anchor="middle">6</text>
<text x="1390.0" y="1340.2">6</text>
<text x="1373.1" y="1182.4" text-anchor="middle">8</text>
<text x="1390.0" y="1224.2">8</text>
</g>
<text x="762.5999999999999"  y="2251.9" font-family="Liberation Serif, serif" font-weight="bold" font-size="49" fill="#262626" text-anchor="middle">PC1</text>
<text transform="translate(43.1 1672.7) rotate(-90)" font-family="Liberation Serif, serif" font-weight="bold" font-size="49" fill="#262626" text-anchor="middle">PC2</text>
<rect x="189.9" y="1982.4" width="276.1" height="103.2" fill="#eeeeee" stroke="#262626" stroke-width="3"/>
<circle cx="257.3" cy="2010.5" r="13.6" fill="#69b72d"/>
<circle cx="257.3" cy="2057.5" r="13.6" fill="#e5141c"/>
<g font-family="Liberation Serif, serif" font-weight="bold">
<text x="321.67" y="2025.5" font-size="40" fill="#000" text-anchor="start" textLength="133.16" lengthAdjust="spacing" >Surface</text>
<text x="322.64" y="2072.3" font-size="40" fill="#000" text-anchor="start" textLength="126.05" lengthAdjust="spacing" >Bottom</text>
</g>
</svg>
</body></html>
